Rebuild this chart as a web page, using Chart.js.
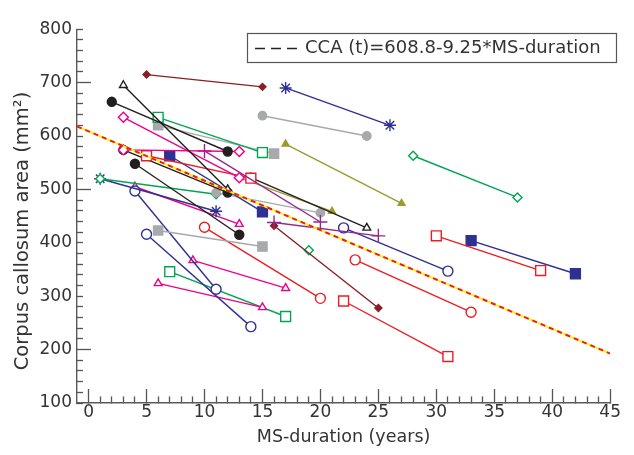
<!DOCTYPE html>
<html><head><meta charset="utf-8">
<script src="https://cdn.jsdelivr.net/npm/chart.js@4.4.0/dist/chart.umd.min.js"></script>
</head><body style="margin:0"><canvas id="c" width="634" height="455"></canvas>
<script>
// ---- data ----
const xTicks = [0, 5, 10, 15, 20, 25, 30, 35, 40, 45];
const yTicks = [100, 200, 300, 400, 500, 600, 700, 800];
const startYears = [5,17,15,17,28,3,2,6,6,3,3,10,16,5,7,3,4,14,13,11,6,1,1,4,5,4,9,6,7,10,16,19,22,23,22,30,33];
const startArea  = [715,690,638,585,563,695,664,635,620,635,574,572,438,563,563,574,548,522,522,494,423,520,520,497,416,505,367,324,346,429,432,386,428,368,291,413,404];
const endYears   = [15,26,24,27,37,12,12,15,16,13,13,20,25,14,15,12,13,24,21,20,15,11,11,11,14,13,17,15,17,20,25,null,31,33,31,39,42];
const endArea    = [692,620,600,474,485,500,571,569,567,522,571,439,413,521,458,494,415,428,459,456,393,491,459,313,243,435,315,279,262,296,278,null,347,270,187,348,342];
const regIntercept = 608.8;
const regSlope = -9.25;
const legendText = 'CCA (t)=608.8-9.25*MS-duration';
const xMin = -1, xMax = 45;

// ---- styles ----
const segStyle = ['darkredDiamond','blueStar','grayCircle','oliveTriangle','greenDiamond','blackTriangleOpen','blackCircle',
  'greenSquareOpen','graySquare','magentaDiamondOpen','magentaDiamondOpen','purpleCross','purpleCross','redSquareOpen',
  'blueSquare','blackCircle','blackCircle','blackTriangleOpen','oliveTriangle','grayCircle','graySquare','greenDiamond',
  'blueStar','blueCircleOpen','blueCircleOpen','magentaTriangleOpen','magentaTriangleOpen','magentaTriangleOpen',
  'greenSquareOpen','redCircleOpen','darkredDiamond','greenDiamond','blueCircleOpen','redCircleOpen','redSquareOpen',
  'redSquareOpen','blueSquare'];
const C = {darkred:'#8B1E24', blue:'#2E3192', gray:'#A7A9AC', olive:'#9D9A2C', green:'#00A651', black:'#231F20',
  magenta:'#EC008C', red:'#ED1C24', purple:'#92278F'};
const styles = {
  darkredDiamond:{c:C.darkred, p:'rectRot', r:3.5, fill:true},
  blueStar:{c:C.blue, p:'star', r:6, fill:false},
  grayCircle:{c:C.gray, p:'circle', r:4.2, fill:true},
  oliveTriangle:{c:C.olive, p:'triangle', r:4, fill:true},
  greenDiamond:{c:C.green, p:'rectRot', r:4.5, fill:false},
  blackTriangleOpen:{c:C.black, p:'triangle', r:4.5, fill:false},
  blackCircle:{c:C.black, p:'circle', r:4.5, fill:true},
  greenSquareOpen:{c:C.green, p:'rect', r:7, fill:false},
  graySquare:{c:C.gray, p:'rect', r:6.5, fill:true},
  magentaDiamondOpen:{c:C.magenta, p:'rectRot', r:5, fill:false},
  purpleCross:{c:C.purple, p:'cross', r:7, fill:false},
  redSquareOpen:{c:C.red, p:'rect', r:7, fill:false},
  blueSquare:{c:C.blue, p:'rect', r:7, fill:true},
  blueCircleOpen:{c:C.blue, p:'circle', r:5, fill:false},
  magentaTriangleOpen:{c:C.magenta, p:'triangle', r:4.5, fill:false},
  redCircleOpen:{c:C.red, p:'circle', r:5, fill:false}
};
const FONT = "'DejaVu Sans', sans-serif";
const TXT = '#333333';
const AXIS = '#5a5a5a';
const MAJOR = 14, MINOR = 7;

const datasets = [];
datasets.push({label:'reg-dash', data:[{x:xMin,y:regIntercept+regSlope*xMin},{x:xMax,y:regIntercept+regSlope*xMax}],
  borderColor:'#ED1C24', borderWidth:2, borderDash:[5,4], pointRadius:0, showLine:true, order:-2});
datasets.push({label:'reg-base', data:[{x:xMin,y:regIntercept+regSlope*xMin},{x:xMax,y:regIntercept+regSlope*xMax}],
  borderColor:'#FFF200', borderWidth:2, pointRadius:0, showLine:true, order:-1});
for (let i = 0; i < startYears.length; i++) {
  const s = styles[segStyle[i]];
  const pts = [{x:startYears[i], y:startArea[i]}];
  if (endYears[i] !== null) pts.push({x:endYears[i], y:endArea[i]});
  datasets.push({label:'s'+i, data:pts, borderColor:s.c, borderWidth:1.4, pointStyle:s.p, pointRadius:s.r,
    pointBorderColor:s.c, pointBackgroundColor:s.fill ? s.c : '#ffffff', pointBorderWidth:1.4, showLine:true, order:0});
}

// all tick values (majors + minors) for the axes' own tick marks
const xAllTicks = [];
for (let v = 0; v <= xMax; v++) xAllTicks.push(v);
const yAllTicks = [];
for (let v = yTicks[0]; v <= yTicks[yTicks.length-1]; v += 20) yAllTicks.push(v);

// shorten the library's own minor tick marks (inward ticks drawn by Chart.js)
const minorTickPatch = {
  id:'minorTickPatch',
  beforeDraw(chart){
    const sx = chart.scales.x, sy = chart.scales.y;
    if (typeof sx._computeGridLineItems !== 'function') return;
    const ix = sx._computeGridLineItems(chart.chartArea);
    const axisY = sx.top;
    ix.forEach(it => {
      const v = Math.round(sx.getValueForPixel(it.tx1));
      if (v % 5 !== 0) {
        if (Math.abs(it.ty1 - axisY) <= Math.abs(it.ty2 - axisY)) it.ty2 = it.ty1 - MINOR; else it.ty1 = it.ty2 - MINOR;
      }
    });
    sx._gridLineItems = ix;
    const iy = sy._computeGridLineItems(chart.chartArea);
    const axisX = sy.right;
    iy.forEach(it => {
      const v = Math.round(sy.getValueForPixel(it.ty1));
      if (v % 100 !== 0) {
        if (Math.abs(it.tx1 - axisX) <= Math.abs(it.tx2 - axisX)) it.tx2 = it.tx1 + MINOR; else it.tx1 = it.tx2 + MINOR;
      }
    });
    sy._gridLineItems = iy;
  }
};

const extras = {
  id:'extras',
  afterDraw(chart){
    const ctx = chart.ctx;
    ctx.save();
    ctx.fillStyle = TXT;
    ctx.font = "19.5px " + FONT;
    ctx.textAlign = 'center'; ctx.textBaseline = 'middle';
    ctx.translate(23, 231); ctx.rotate(-Math.PI/2);
    ctx.fillText('Corpus callosum area (mm²)', 0, 0);
    ctx.restore();
    ctx.save();
    ctx.strokeStyle = '#555'; ctx.lineWidth = 1.2;
    ctx.fillStyle = '#fff';
    ctx.fillRect(247.5, 33.5, 369, 29);
    ctx.strokeRect(247.5, 33.5, 369, 29);
    ctx.strokeStyle = '#222'; ctx.lineWidth = 1.6;
    ctx.setLineDash([10,6]);
    ctx.beginPath(); ctx.moveTo(255, 48.5); ctx.lineTo(298, 48.5); ctx.stroke();
    ctx.setLineDash([]);
    ctx.fillStyle = TXT; ctx.font = "18px " + FONT;
    ctx.textAlign = 'left'; ctx.textBaseline = 'middle';
    ctx.fillText(legendText, 305, 48.5);
    ctx.restore();
  }
};

new Chart(document.getElementById('c'), {
  type:'scatter',
  data:{datasets},
  options:{
    responsive:false, animation:false,
    layout:{padding:{top:22, right:12.5, left:0, bottom:0}},
    plugins:{legend:{display:false}, tooltip:{enabled:false}},
    scales:{
      x:{type:'linear', min:xMin, max:xMax,
        afterBuildTicks:(s)=>{ s.ticks = xAllTicks.map(v=>({value:v})); },
        ticks:{font:{family:FONT, size:17, lineHeight:1.2}, color:TXT, padding:13, maxRotation:0, autoSkip:false,
          callback:(v)=> xTicks.includes(v) ? String(v) : ''},
        grid:{display:true, drawOnChartArea:false, drawTicks:true, tickLength:-MAJOR, tickColor:'#555555', tickWidth:1.3},
        border:{display:true, color:AXIS, width:1.4},
        title:{display:true, text:'MS-duration (years)', font:{family:FONT, size:17.5, lineHeight:1.2}, color:TXT, padding:{top:0, bottom:7.5}},
        afterFit:(s)=>{ s.height = 52; }
      },
      y:{type:'linear', min:yTicks[0], max:yTicks[yTicks.length-1],
        afterBuildTicks:(s)=>{ s.ticks = yAllTicks.map(v=>({value:v})); },
        ticks:{font:{family:FONT, size:17, lineHeight:1.2}, color:TXT, padding:19, autoSkip:false,
          callback:(v)=> yTicks.includes(v) ? String(v) : ''},
        grid:{display:true, drawOnChartArea:false, drawTicks:true, tickLength:-MAJOR, tickColor:'#555555', tickWidth:1.3},
        border:{display:true, color:AXIS, width:1.4},
        afterFit:(s)=>{ s.width = 77; }
      }
    }
  },
  plugins:[minorTickPatch, extras]
});
</script></body></html>
